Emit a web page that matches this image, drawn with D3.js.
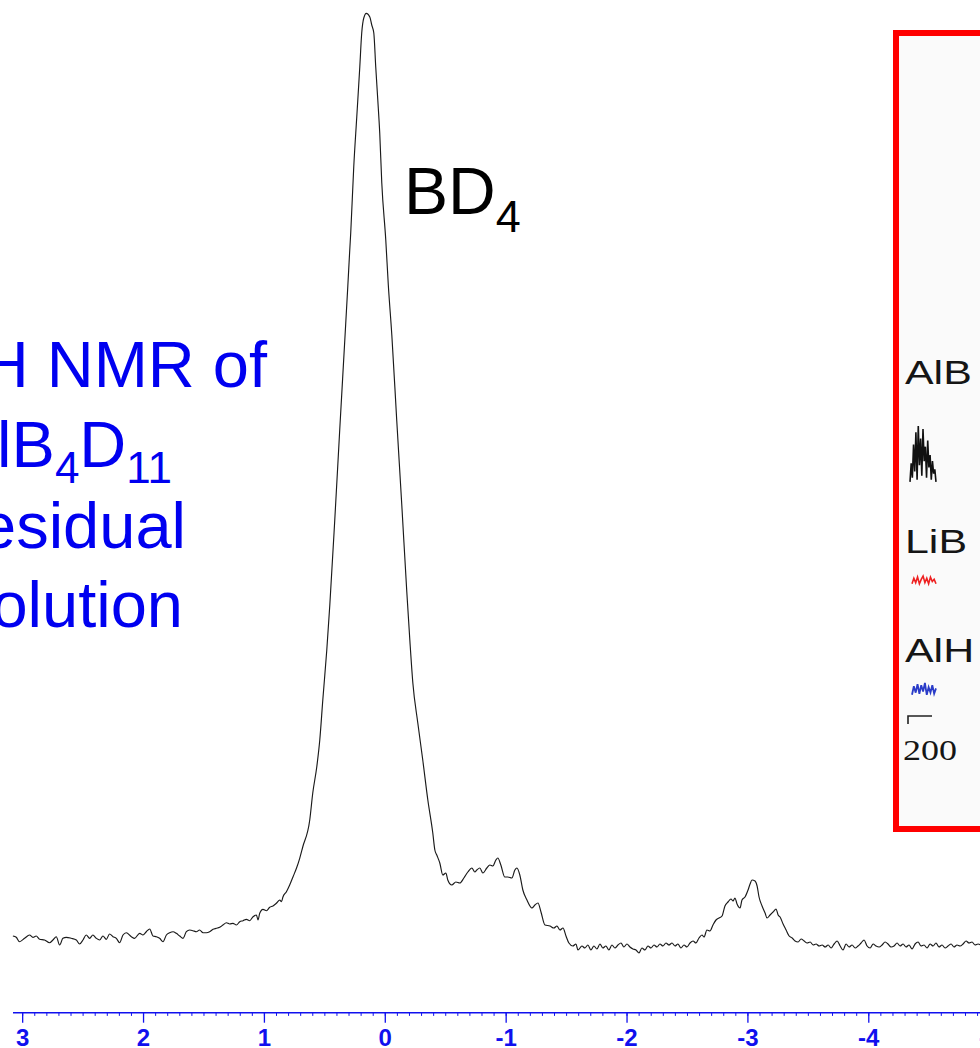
<!DOCTYPE html>
<html>
<head>
<meta charset="utf-8">
<script src="https://cdn.jsdelivr.net/npm/d3@7"></script>
<style>
  body { margin: 0; background: #ffffff; }
  svg { display: block; font-family: Arial, "Liberation Sans", Helvetica, sans-serif; }
</style>
</head>
<body>
<svg id="chart" width="980" height="1048"></svg>
<script>
// Chemical shift (ppm) of each sampled point of the spectrum
const shiftPpm = [
  3.081, 3.053, 3.026, 2.984, 2.943, 2.915, 2.888, 2.860, 2.819, 2.778,
  2.750, 2.722, 2.694, 2.667, 2.639, 2.598, 2.556, 2.529, 2.501, 2.474,
  2.446, 2.419, 2.391, 2.363, 2.336, 2.308, 2.281, 2.253, 2.225, 2.198,
  2.170, 2.143, 2.101, 2.074, 2.032, 2.005, 1.977, 1.949, 1.922, 1.894,
  1.867, 1.839, 1.811, 1.784, 1.756, 1.729, 1.701, 1.673, 1.646, 1.618,
  1.591, 1.563, 1.536, 1.508, 1.480, 1.453, 1.425, 1.398, 1.370, 1.343,
  1.315, 1.287, 1.260, 1.232, 1.204, 1.177, 1.149, 1.122, 1.094, 1.066,
  1.053, 1.039, 1.012, 0.983, 0.956, 0.929, 0.901, 0.873, 0.859, 0.846,
  0.818, 0.791, 0.763, 0.735, 0.708, 0.683, 0.625, 0.600, 0.567, 0.542,
  0.517, 0.484, 0.459, 0.418, 0.377, 0.335, 0.310, 0.294, 0.286, 0.261,
  0.236, 0.211, 0.195, 0.178, 0.157, 0.128, 0.112, 0.095, 0.079, 0.062,
  0.046, 0.029, -0.004, -0.025, -0.054, -0.095, -0.137, -0.178, -0.203, -0.228,
  -0.269, -0.310, -0.352, -0.393, -0.410, -0.426, -0.451, -0.476, -0.501, -0.517,
  -0.550, -0.584, -0.617, -0.650, -0.683, -0.716, -0.741, -0.757, -0.782, -0.807,
  -0.840, -0.865, -0.890, -0.915, -0.931, -0.956, -0.989, -1.014, -1.047, -1.072,
  -1.089, -1.113, -1.138, -1.172, -1.213, -1.238, -1.263, -1.288, -1.321, -1.362,
  -1.395, -1.420, -1.445, -1.470, -1.495, -1.519, -1.552, -1.577, -1.594, -1.627,
  -1.651, -1.676, -1.701, -1.726, -1.751, -1.776, -1.800, -1.825, -1.850, -1.875,
  -1.900, -1.925, -1.950, -1.974, -1.999, -2.024, -2.049, -2.074, -2.099, -2.123,
  -2.148, -2.173, -2.198, -2.223, -2.248, -2.272, -2.297, -2.322, -2.347, -2.372,
  -2.397, -2.421, -2.446, -2.471, -2.496, -2.521, -2.546, -2.570, -2.595, -2.620,
  -2.637, -2.661, -2.686, -2.711, -2.736, -2.761, -2.786, -2.810, -2.835, -2.860,
  -2.877, -2.893, -2.910, -2.935, -2.951, -2.976, -3.001, -3.018, -3.034, -3.059,
  -3.076, -3.092, -3.117, -3.142, -3.158, -3.183, -3.208, -3.233, -3.250, -3.266,
  -3.291, -3.316, -3.341, -3.366, -3.390, -3.415, -3.440, -3.465, -3.490, -3.515,
  -3.540, -3.564, -3.589, -3.614, -3.639, -3.664, -3.688, -3.713, -3.738, -3.763,
  -3.787, -3.812, -3.837, -3.862, -3.887, -3.911, -3.936, -3.961, -3.986, -4.011,
  -4.036, -4.060, -4.085, -4.110, -4.135, -4.159, -4.184, -4.209, -4.234, -4.259,
  -4.284, -4.308, -4.333, -4.358, -4.383, -4.408, -4.432, -4.457, -4.482, -4.507,
  -4.532, -4.556, -4.581, -4.606, -4.631, -4.656, -4.681, -4.705, -4.730, -4.755,
  -4.780, -4.805, -4.829, -4.854, -4.879, -4.904, -4.929
];

// Signal intensity (arbitrary units) at each shift above
const intensity = [
  14.0, 12.7, 8.3, 11.7, 15.0, 12.7, 14.0, 10.7, 10.0, 7.3,
  10.0, 13.3, 5.0, 11.7, 12.7, 11.7, 10.0, 6.0, 10.0, 15.0,
  11.7, 15.0, 11.7, 10.0, 14.0, 10.7, 16.0, 13.3, 11.7, 7.3,
  15.0, 17.3, 13.3, 11.7, 16.7, 15.0, 18.3, 21.0, 14.0, 13.3,
  11.7, 8.3, 15.0, 17.3, 18.3, 16.7, 14.0, 11.7, 18.3, 20.0,
  19.3, 18.3, 20.0, 17.3, 17.3, 18.3, 20.7, 21.7, 22.7, 25.0,
  27.3, 26.0, 26.7, 25.0, 28.3, 29.3, 30.7, 29.3, 33.3, 35.0,
  30.0, 36.7, 40.7, 39.3, 42.7, 44.0, 46.7, 50.0, 48.3, 53.3,
  58.3, 65.0, 73.3, 81.7, 91.7, 103, 130, 157, 183, 210,
  250, 300, 345, 430, 520, 610, 664, 700, 717, 783,
  833, 883, 917, 932, 936.7, 933, 925, 917, 883, 850,
  817, 767, 710, 665, 615, 529, 444, 358, 310, 267,
  227, 190, 150, 117, 100, 95, 87, 75, 77, 70,
  65, 68, 67, 72, 78, 82, 78, 80, 82, 77,
  82, 85, 84, 90, 92, 85, 73, 73, 72, 80,
  82, 75, 60, 50, 42, 45, 47, 38, 25, 24,
  22, 24, 20, 22, 14, 7, 4, 6, 0, 4,
  2, 5, 0, 4, 1, 6, 2, 4, 0, 5,
  2, 5, 7, 3, 6, 3, 1, 0, -3, 2,
  0, 4, 2, 5, 3, 6, 4, 7, 5, 7,
  4, 6, 2, 5, 3, 7, 9, 7, 12, 15,
  13, 20, 19, 25, 30, 32, 34, 44, 48, 51,
  49, 52, 46, 42, 50, 53, 60, 66, 70, 69,
  64, 53, 44, 37, 32, 35, 38, 41, 35, 33,
  26, 20, 14, 12, 9, 8, 11, 9, 7, 8,
  5, 6, 4, 5, 3, 5, 2, 6, 9, 4,
  0, 6, 3, 5, 2, 4, 7, 10, 4, 2,
  6, 4, 3, 5, 8, 6, 3, 4, 7, 4,
  6, 3, 5, 1, 6, 8, 4, 5, 2, 6,
  4, 7, 3, 5, 2, 4, 6, 3, 5, 4,
  6, 9, 7, 8, 5, 6, 5
];

// Axis ticks (ppm) and their labels
const majorTicks = [3, 2, 1, 0, -1, -2, -3, -4, -5];
const majorLabels = ["3", "2", "1", "0", "-1", "-2", "-3", "-4", "-5"];

// Inset: labels of the stacked traces and the visible parts of their signals
const insetLabels = ["AlB", "LiB", "AlH"];
const insetAxisLabel = "200";
const insetBlack = [4, 22, 8, 40, 14, 52, 6, 58, 20, 46, 10, 55, 24, 38, 8, 44, 18, 30, 6, 24, 12, 16, 4];
const insetRed = [2, 7, 3, 8, 2, 6, 9, 3, 7, 2, 8, 4, 6, 2];
const insetBlue = [3, 11, 5, 13, 4, 12, 6, 14, 3, 10, 5, 12, 4, 9];

const svg = d3.select("#chart");

const x = d3.scaleLinear().domain([3.08, -4.93]).range([13, 981.2]);
const y = d3.scaleLinear().domain([0, 936.7]).range([950, 13.3]);

// Spectrum trace
const pts = shiftPpm.map((p, i) => [p, intensity[i]]);
svg.append("path")
  .datum(pts)
  .attr("fill", "none")
  .attr("stroke", "#1a1a1a")
  .attr("stroke-width", 1.15)
  .attr("stroke-linejoin", "round")
  .attr("d", d3.line().x(d => x(d[0])).y(d => y(d[1])).curve(d3.curveMonotoneX));

// ppm axis with major and minor ticks
const axisY = 1012.7;
const axisColor = "#1010ee";
const gAxis = svg.append("g").attr("transform", `translate(0,${axisY})`);
gAxis.append("line")
  .attr("x1", x.range()[0]).attr("x2", x.range()[1])
  .attr("stroke", axisColor).attr("stroke-width", 1.6);
const minorTicks = d3.range(-49, 31).map(k => k / 10);
gAxis.selectAll(".minor").data(minorTicks).join("line")
  .attr("class", "minor")
  .attr("x1", d => x(d)).attr("x2", d => x(d))
  .attr("y1", 0).attr("y2", 3.2)
  .attr("stroke", axisColor).attr("stroke-width", 1);
gAxis.selectAll(".major").data(majorTicks).join("line")
  .attr("class", "major")
  .attr("x1", d => x(d)).attr("x2", d => x(d))
  .attr("y1", 0).attr("y2", 10)
  .attr("stroke", axisColor).attr("stroke-width", 1.3);
gAxis.selectAll(".lbl").data(majorTicks).join("text")
  .attr("class", "lbl")
  .attr("x", d => x(d))
  .attr("y", 33.8)
  .attr("text-anchor", "middle")
  .attr("font-size", 24)
  .attr("font-weight", "bold")
  .attr("fill", axisColor)
  .text((d, i) => majorLabels[i]);

// Peak label
const bd = svg.append("text")
  .attr("x", 404).attr("y", 214)
  .attr("font-size", 66).attr("fill", "#000");
bd.append("tspan").text("BD");
bd.append("tspan").attr("font-size", 45).attr("dy", 18).text("4");

// Description in blue
const blue = "#0000f0";
const desc = svg.append("g").attr("fill", blue).attr("font-size", 65).attr("text-anchor", "end");
desc.append("text").attr("x", 267).attr("y", 386.7).text("\u00B9H NMR of");
const l2 = desc.append("text").attr("x", 172).attr("y", 466.7);
l2.append("tspan").text("AlB");
l2.append("tspan").attr("font-size", 44).attr("dy", 16).text("4");
l2.append("tspan").attr("dy", -16).text("D");
l2.append("tspan").attr("font-size", 44).attr("dy", 16).text("11");
desc.append("text").attr("x", 186).attr("y", 548).text("residual");
desc.append("text").attr("x", 183).attr("y", 627).text("solution");

// Inset panel with red frame
const inset = svg.append("g");
inset.append("defs").append("clipPath").attr("id", "insetClip")
  .append("rect").attr("x", 899).attr("y", 36).attr("width", 90).attr("height", 790);
inset.append("rect")
  .attr("x", 896).attr("y", 33).attr("width", 100).attr("height", 796)
  .attr("fill", "#fafafa").attr("stroke", "#ff0000").attr("stroke-width", 6);
const ig = inset.append("g").attr("clip-path", "url(#insetClip)");
const labelY = [384, 553, 662];
ig.selectAll(".il").data(insetLabels).join("text")
  .attr("class", "il")
  .attr("transform", (d, i) => `translate(905,${labelY[i]}) scale(1.3,1)`)
  .attr("font-size", 33).attr("fill", "#151515")
  .text(d => d);
ig.append("text")
  .attr("transform", "translate(903,760) scale(1.2,1)")
  .attr("font-family", "'Liberation Serif', 'Times New Roman', serif")
  .attr("font-size", 30).attr("fill", "#151515").text(insetAxisLabel);

// Inset traces, each drawn on its own small scale
function insetTrace(vals, x0, x1, base, amp, color, width) {
  const sx = d3.scaleLinear().domain([0, vals.length - 1]).range([x0, x1]);
  const sy = d3.scaleLinear().domain([0, d3.max(vals)]).range([base, base - amp]);
  ig.append("path").datum(vals)
    .attr("fill", "none").attr("stroke", color).attr("stroke-width", width)
    .attr("d", d3.line().x((d, i) => sx(i)).y(d => sy(d)));
}
insetTrace(insetBlack, 910, 936, 486, 60, "#111", 1.6);
insetTrace(insetRed, 912, 936, 586, 10, "#ee2020", 1.6);
insetTrace(insetBlue, 912, 936, 698, 15, "#2a3cc8", 1.8);

// Scale bracket of the inset
ig.append("path")
  .attr("d", "M908,724 V716 H932")
  .attr("fill", "none").attr("stroke", "#222").attr("stroke-width", 1.6);
</script>
</body>
</html>
